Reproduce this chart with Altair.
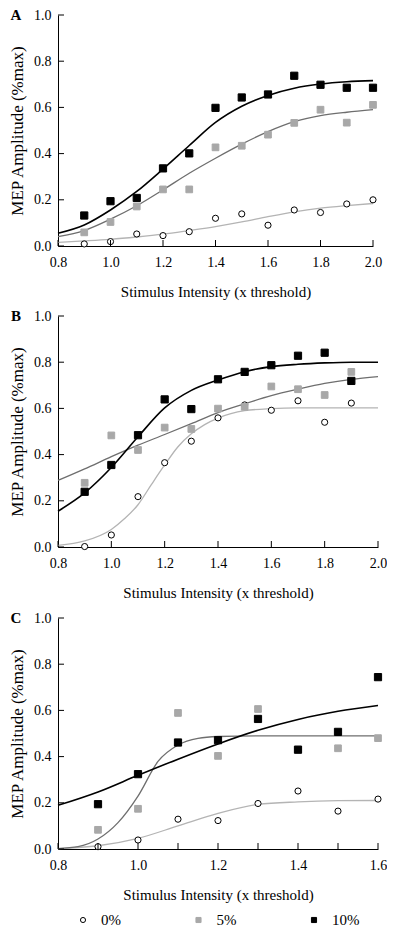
import altair as alt
import pandas as pd

# ---------------- data ----------------
SERIES = ["0%", "5%", "10%"]

# Panel A
A_x = [0.9, 1.0, 1.1, 1.2, 1.3, 1.4, 1.5, 1.6, 1.7, 1.8, 1.9, 2.0]
A_0 = [0.009, 0.019, 0.052, 0.045, 0.062, 0.120, 0.139, 0.090, 0.156, 0.145, 0.182, 0.200]
A_5 = [0.059, 0.104, 0.171, 0.245, 0.245, 0.427, 0.434, 0.482, 0.533, 0.590, 0.534, 0.611]
A_10 = [0.132, 0.194, 0.208, 0.336, 0.401, 0.598, 0.643, 0.656, 0.737, 0.698, 0.685, 0.685]
A_fx = [0.8, 0.9, 1.0, 1.1, 1.2, 1.3, 1.4, 1.5, 1.6, 1.7, 1.8, 1.9, 2.0]
A_f0 = [0.016, 0.022, 0.029, 0.039, 0.051, 0.067, 0.084, 0.104, 0.127, 0.148, 0.164, 0.175, 0.184]
A_f5 = [0.041, 0.067, 0.116, 0.174, 0.243, 0.315, 0.380, 0.441, 0.495, 0.538, 0.564, 0.579, 0.590]
A_f10 = [0.055, 0.091, 0.156, 0.236, 0.333, 0.435, 0.535, 0.605, 0.652, 0.683, 0.701, 0.711, 0.716]

# Panel B
B_x = [0.9, 1.0, 1.1, 1.2, 1.3, 1.4, 1.5, 1.6, 1.7, 1.8, 1.9]
B_0 = [0.002, 0.052, 0.218, 0.365, 0.458, 0.559, 0.615, 0.592, 0.633, 0.540, 0.623]
B_5 = [0.278, 0.483, 0.420, 0.517, 0.511, 0.599, 0.607, 0.695, 0.683, 0.658, 0.758]
B_10 = [0.239, 0.355, 0.484, 0.639, 0.597, 0.726, 0.758, 0.787, 0.828, 0.841, 0.719]
B_fx0 = [0.8, 0.9, 1.0, 1.05, 1.1, 1.15, 1.2, 1.25, 1.3, 1.35, 1.4, 1.5, 1.6, 1.7, 1.8, 1.9, 2.0]
B_f0 = [0.007, 0.026, 0.076, 0.123, 0.183, 0.270, 0.355, 0.434, 0.490, 0.530, 0.558, 0.590, 0.599, 0.602, 0.602, 0.602, 0.602]
B_fx = [0.8, 0.9, 1.0, 1.1, 1.2, 1.3, 1.4, 1.5, 1.6, 1.7, 1.8, 1.9, 2.0]
B_f5 = [0.288, 0.338, 0.391, 0.441, 0.487, 0.534, 0.582, 0.620, 0.655, 0.683, 0.708, 0.726, 0.738]
B_f10 = [0.155, 0.234, 0.344, 0.477, 0.602, 0.678, 0.723, 0.759, 0.781, 0.791, 0.797, 0.800, 0.800]

# Panel C
C_x = [0.9, 1.0, 1.1, 1.2, 1.3, 1.4, 1.5, 1.6]
C_0 = [0.010, 0.039, 0.129, 0.123, 0.197, 0.251, 0.164, 0.216]
C_5 = [0.083, 0.174, 0.589, 0.403, 0.606, 0.430, 0.436, 0.480]
C_10 = [0.194, 0.324, 0.461, 0.471, 0.563, 0.430, 0.507, 0.744]
C_fx5 = [0.8, 0.85, 0.9, 0.95, 1.0, 1.05, 1.1, 1.15, 1.2, 1.3, 1.4, 1.5, 1.6]
C_f5 = [0.002, 0.010, 0.043, 0.114, 0.229, 0.379, 0.450, 0.479, 0.487, 0.490, 0.490, 0.490, 0.490]
C_fx = [0.8, 0.9, 1.0, 1.1, 1.2, 1.3, 1.4, 1.5, 1.6]
C_f0 = [0.002, 0.014, 0.046, 0.100, 0.154, 0.193, 0.204, 0.209, 0.210]
C_f10 = [0.189, 0.247, 0.319, 0.389, 0.455, 0.514, 0.561, 0.596, 0.621]

Y_TICKS = [0.0, 0.2, 0.4, 0.6, 0.8, 1.0]
X_TICKS_AB = [0.8, 1.0, 1.2, 1.4, 1.6, 1.8, 2.0]
X_TICKS_C = [0.8, 0.9, 1.0, 1.1, 1.2, 1.3, 1.4, 1.5, 1.6]

FONT = "Liberation Serif"
H = 231
LINE_COLORS = {"0%": "#b4b4b4", "5%": "#6e6e6e", "10%": "#000000"}

SHAPE_SCALE = alt.Scale(domain=SERIES, range=["circle", "square", "square"])
FILL_SCALE = alt.Scale(domain=SERIES, range=["#ffffff", "#a8a8a8", "#000000"])
STROKE_SCALE = alt.Scale(domain=SERIES, range=["#000000", "#a8a8a8", "#000000"])
SIZE_SCALE = alt.Scale(domain=SERIES, range=[38, 52, 52])


def panel(letter, px, s0, s5, s10, fits, xdom, xticks, width):
    pts = pd.DataFrame(
        {
            "x": px * 3,
            "y": s0 + s5 + s10,
            "series": ["0%"] * len(px) + ["5%"] * len(px) + ["10%"] * len(px),
            "order": [0] * len(px) + [1] * len(px) + [2] * len(px),
        }
    )
    xs = alt.Scale(domain=xdom, nice=False, zero=False)
    ys = alt.Scale(domain=[0, 1], nice=False)

    layers = []
    for name in ["0%", "5%", "10%"]:
        fx, fy = fits[name]
        ldf = pd.DataFrame({"x": fx, "y": fy})
        layers.append(
            alt.Chart(ldf)
            .mark_line(
                interpolate="monotone",
                color=LINE_COLORS[name],
                strokeWidth=1.6 if name == "10%" else 1.3,
            )
            .encode(
                x=alt.X(
                    "x:Q",
                    scale=xs,
                    axis=alt.Axis(
                        values=xticks,
                        format=".1f",
                        title="Stimulus Intensity (x threshold)",
                    ),
                ),
                y=alt.Y(
                    "y:Q",
                    scale=ys,
                    axis=alt.Axis(values=Y_TICKS, format=".1f", title="MEP Amplitude (%max)"),
                ),
            )
        )

    points = (
        alt.Chart(pts)
        .mark_point(strokeWidth=1, opacity=1, filled=False)
        .encode(
            x=alt.X("x:Q", scale=xs),
            y=alt.Y("y:Q", scale=ys),
            shape=alt.Shape("series:N", scale=SHAPE_SCALE, legend=None),
            fill=alt.Fill("series:N", scale=FILL_SCALE, legend=None),
            stroke=alt.Stroke("series:N", scale=STROKE_SCALE, legend=None),
            size=alt.Size("series:N", scale=SIZE_SCALE, legend=None),
            order=alt.Order("order:Q"),
        )
    )

    xt = (
        alt.Chart(pd.DataFrame({"t": xticks}))
        .mark_rule(color="black", strokeWidth=1)
        .encode(x=alt.X("t:Q", scale=xs), y=alt.value(H), y2=alt.value(H - 6))
    )
    yt = (
        alt.Chart(pd.DataFrame({"t": Y_TICKS}))
        .mark_rule(color="black", strokeWidth=1)
        .encode(y=alt.Y("t:Q", scale=ys), x=alt.value(0), x2=alt.value(6))
    )
    lab = (
        alt.Chart(pd.DataFrame({"letter": [letter]}))
        .mark_text(font=FONT, fontSize=15, fontWeight="bold", align="center", baseline="middle")
        .encode(text="letter:N", x=alt.value(-42), y=alt.value(0))
    )
    return alt.layer(*layers, points, xt, yt, lab).properties(width=width, height=H)


pA = panel("A", A_x, A_0, A_5, A_10,
           {"0%": (A_fx, A_f0), "5%": (A_fx, A_f5), "10%": (A_fx, A_f10)},
           [0.8, 2.0], X_TICKS_AB, 315)
pB = panel("B", B_x, B_0, B_5, B_10,
           {"0%": (B_fx0, B_f0), "5%": (B_fx, B_f5), "10%": (B_fx, B_f10)},
           [0.8, 2.0], X_TICKS_AB, 320)
pC = panel("C", C_x, C_0, C_5, C_10,
           {"0%": (C_fx, C_f0), "5%": (C_fx5, C_f5), "10%": (C_fx, C_f10)},
           [0.8, 1.6], X_TICKS_C, 320)

# custom legend row, drawn from the series list (index of each entry as its position)
leg_df = pd.DataFrame({"series": SERIES, "idx": list(range(len(SERIES)))})
leg_x = alt.X(
    "idx:Q",
    scale=alt.Scale(domain=[0, len(SERIES) - 1], range=[25, 256], nice=False, zero=False),
    axis=None,
)
leg_sym = (
    alt.Chart(leg_df)
    .mark_point(size=26, strokeWidth=1, opacity=1, filled=False)
    .encode(
        x=leg_x,
        y=alt.value(7),
        shape=alt.Shape("series:N", scale=SHAPE_SCALE, legend=None),
        fill=alt.Fill("series:N", scale=FILL_SCALE, legend=None),
        stroke=alt.Stroke("series:N", scale=STROKE_SCALE, legend=None),
    )
)
leg_txt = (
    alt.Chart(leg_df)
    .mark_text(font=FONT, fontSize=15, align="left", baseline="middle", dx=18, color="black")
    .encode(x=leg_x, y=alt.value(7), text="series:N")
)
legend = alt.layer(leg_sym, leg_txt).properties(width=320, height=14)

chart = (
    alt.vconcat(alt.vconcat(pA, pB, spacing=10), pC, legend, spacing=11)
    .properties(padding={"left": 0, "top": 0, "right": 0, "bottom": 0})
    .configure_view(stroke=None)
    .configure_axis(
        grid=False,
        ticks=False,
        domainColor="black",
        domainWidth=1,
        labelFont=FONT,
        labelFontSize=14,
        labelColor="black",
        labelPadding=9,
        labelFlush=False,
        titleFont=FONT,
        titleFontSize=15,
        titleFontWeight="normal",
        titleColor="black",
    )
    .configure_axisX(titlePadding=15, labelPadding=9)
    .configure_axisY(titleFontSize=17, titlePadding=7, labelPadding=7)
)

chart.save("out.html", embed_options={"renderer": "svg", "actions": False})
